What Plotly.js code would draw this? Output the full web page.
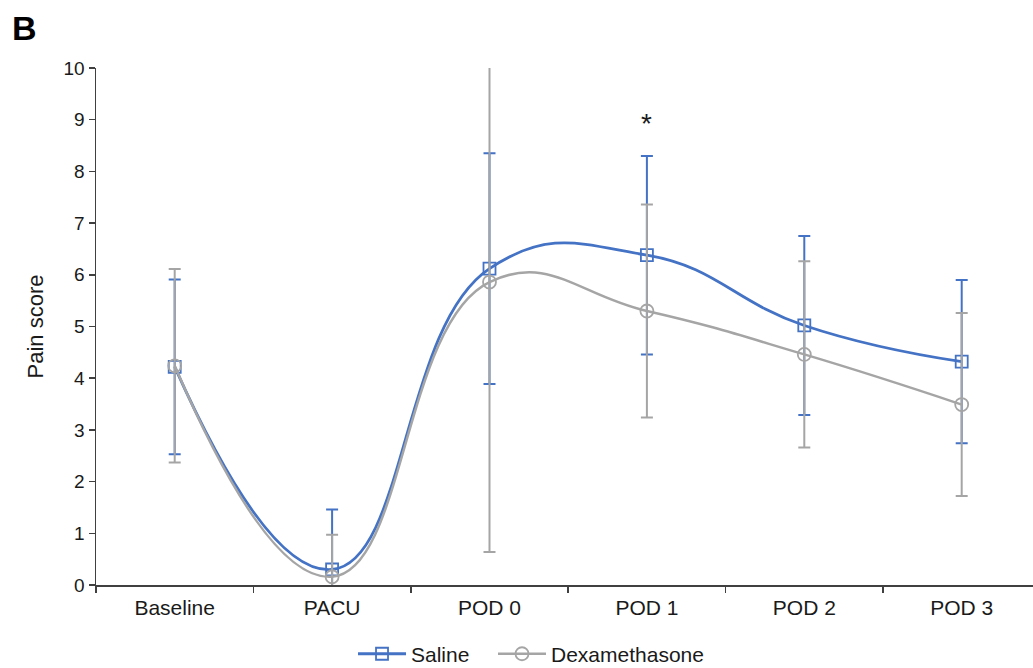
<!DOCTYPE html>
<html>
<head>
<meta charset="utf-8">
<script src="https://cdn.plot.ly/plotly-3.0.1.min.js"></script>
<style>
html, body { margin: 0; padding: 0; background: #ffffff; overflow: hidden; width: 1033px; height: 668px; }
#chart { width: 1033px; height: 700px; }
</style>
</head>
<body>
<div id="chart"></div>
<script>
var categories = ['Baseline', 'PACU', 'POD 0', 'POD 1', 'POD 2', 'POD 3'];
var salineMean = [4.22, 0.30, 6.12, 6.38, 5.02, 4.32];
var salineSD   = [1.69, 1.16, 2.23, 1.92, 1.73, 1.58];
var dexMean    = [4.24, 0.16, 5.86, 5.30, 4.46, 3.49];
var dexSD      = [1.87, 0.81, 5.22, 2.06, 1.80, 1.77];
var yTicks = [0, 1, 2, 3, 4, 5, 6, 7, 8, 9, 10];
var seriesNames = ['Saline', 'Dexamethasone'];

var FONT = '"Liberation Sans", Arial, Helvetica, sans-serif';
var BLUE = '#4472C4';
var GRAY = '#A5A5A5';

var traces = [
  {
    x: categories, y: salineMean, name: seriesNames[0], legend: 'legend',
    type: 'scatter', mode: 'lines+markers',
    line: { color: BLUE, width: 2.8, shape: 'spline', smoothing: 1.3 },
    marker: { symbol: 'square-open', size: 12, color: BLUE, line: { width: 1.8, color: BLUE } },
    error_y: { type: 'data', array: salineSD, visible: true, color: BLUE, thickness: 2, width: 6 }
  },
  {
    x: categories, y: dexMean, name: seriesNames[1], legend: 'legend2',
    type: 'scatter', mode: 'lines+markers',
    line: { color: GRAY, width: 2.5, shape: 'spline', smoothing: 1.3 },
    marker: { symbol: 'circle-open', size: 13, color: GRAY, line: { width: 1.8, color: GRAY } },
    error_y: { type: 'data', array: dexSD, visible: true, color: GRAY, thickness: 2, width: 6 }
  }
];

var legendBase = {
  orientation: 'h', xanchor: 'left', y: -0.094, yanchor: 'top',
  font: { family: FONT, size: 21, color: '#1a1a1a' },
  itemwidth: 48, tracegroupgap: 0, bgcolor: 'rgba(0,0,0,0)'
};

var layout = {
  width: 1033, height: 700,
  margin: { l: 96, r: 0, t: 68, b: 115, pad: 0, autoexpand: false },
  paper_bgcolor: '#ffffff', plot_bgcolor: '#ffffff',
  font: { family: FONT, size: 19, color: '#1a1a1a' },
  showlegend: true,
  legend: Object.assign({}, legendBase, { x: 0.2743 }),
  legend2: Object.assign({}, legendBase, { x: 0.4237 }),
  xaxis: {
    type: 'category', range: [-0.5, 5.453], automargin: false,
    showline: true, linecolor: '#404040', linewidth: 1.5,
    ticks: 'outside', tickson: 'boundaries', ticklen: 6, tickcolor: '#404040', tickwidth: 1.5,
    ticklabelstandoff: 3,
    showgrid: false, zeroline: false,
    tickfont: { family: FONT, size: 21, color: '#1a1a1a' }
  },
  yaxis: {
    range: [0, 10], tickmode: 'array', tickvals: yTicks, ticktext: yTicks.map(String),
    automargin: false,
    showline: true, linecolor: '#404040', linewidth: 1.5,
    ticks: 'outside', ticklen: 6, tickcolor: '#404040', tickwidth: 1.5,
    showgrid: false, zeroline: false,
    tickfont: { family: FONT, size: 19, color: '#1a1a1a' },
    title: { text: 'Pain score', font: { family: FONT, size: 22, color: '#1a1a1a' }, standoff: 14 }
  },
  annotations: [
    { text: '*', x: 'POD 1', y: 8.93, xref: 'x', yref: 'y', showarrow: false,
      font: { family: FONT, size: 28, color: '#1a1a1a' }, xanchor: 'center', yanchor: 'middle' },
    { text: '<b>B</b>', x: -0.092, y: 1.1188, xref: 'paper', yref: 'paper', showarrow: false,
      font: { family: FONT, size: 34, color: '#000000' }, xanchor: 'left', yanchor: 'top' }
  ],
  hovermode: false
};

Plotly.newPlot('chart', traces, layout, { displayModeBar: false, staticPlot: true });
</script>
</body>
</html>
